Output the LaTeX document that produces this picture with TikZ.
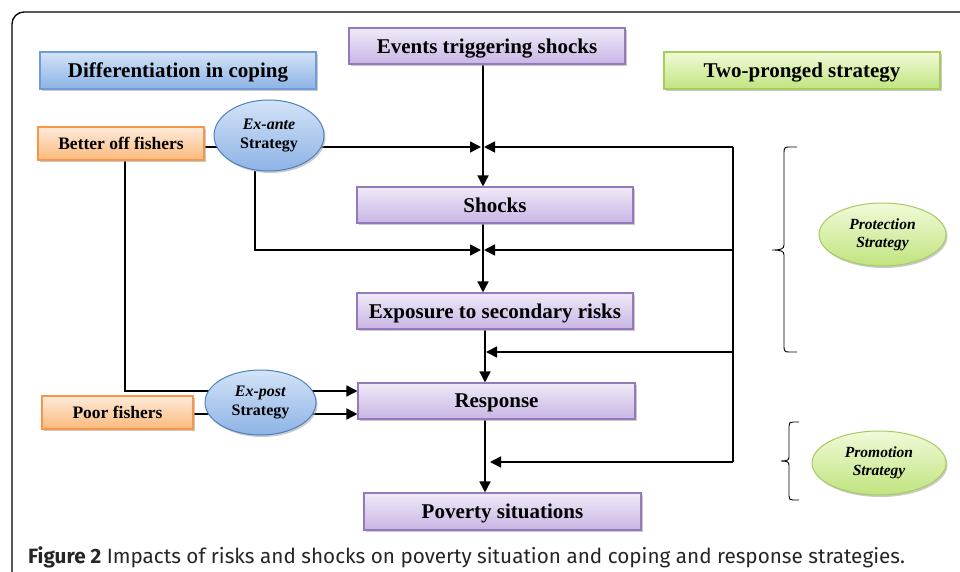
\documentclass[tikz,border=0pt]{standalone}
\usepackage{fontspec}
\setmainfont{Liberation Serif}
\newfontfamily\capfont{Fira Sans}
\usetikzlibrary{arrows.meta,shapes.geometric,shadows}
\pgfdeclarelayer{back}
\pgfdeclarelayer{bg}
\pgfsetlayers{back,bg,main}
\definecolor{bluebd}{HTML}{6F9BD6}
\definecolor{bluetop}{HTML}{D4E3F7}
\definecolor{bluebot}{HTML}{8DB3E6}
\definecolor{purpbd}{HTML}{9479BD}
\definecolor{purptop}{HTML}{F0EAF8}
\definecolor{purpbot}{HTML}{C8B5E4}
\definecolor{greenbd}{HTML}{A6CC5E}
\definecolor{greentop}{HTML}{F1FAD8}
\definecolor{greenbot}{HTML}{C0E47F}
\definecolor{orbd}{HTML}{F79646}
\definecolor{ortop}{HTML}{FDEBDA}
\definecolor{orbot}{HTML}{FBB97C}
\definecolor{ellbd}{HTML}{4F81BD}
\tikzset{
  x=1pt,y=-1pt,
  shad/.style={drop shadow={shadow xshift=1.5pt,shadow yshift=-2pt,fill=black!35,opacity=0.6}},
  boxbase/.style={rectangle,line width=1.1pt,shad,inner sep=0pt,text depth=0pt,font=\fontsize{21}{24}\selectfont\bfseries},
  bluebox/.style={boxbase,draw=bluebd,top color=bluetop,bottom color=bluebot},
  purpbox/.style={boxbase,draw=purpbd,top color=purptop,bottom color=purpbot},
  greenbox/.style={boxbase,draw=greenbd,top color=greentop,bottom color=greenbot},
  orbox/.style={boxbase,draw=orbd,top color=ortop,bottom color=orbot,font=\fontsize{17.5}{20}\selectfont\bfseries},
  blueell/.style={ellipse,line width=1pt,draw=ellbd,top color=bluetop,bottom color=bluebot,shad,inner sep=0pt,align=center,font=\fontsize{16}{19}\selectfont\bfseries},
  greenell/.style={ellipse,line width=1pt,draw=greenbd,top color=greentop,bottom color=greenbot,shad,inner sep=0pt,align=center,font=\fontsize{15.5}{18}\selectfont\bfseries\itshape},
  conn/.style={line width=1.6pt,black},
  arr/.style={conn,-{Triangle[length=11pt,width=11pt]}},
  brc/.style={line width=0.9pt,black},
}
\begin{document}
\begin{tikzpicture}
\useasboundingbox (0,0) rectangle (960,572);
\begin{pgfonlayer}{back}
\fill[white] (0,0) rectangle (960,572);
\end{pgfonlayer}
\draw[line width=1.3pt,rounded corners=12pt] (12,580) -- (12,12) -- (975,12);

% nodes
\node[bluebox,minimum width=276pt,minimum height=37pt] (diff) at (178,70.5) {Differentiation in coping};
\node[purpbox,minimum width=276pt,minimum height=36pt] (events) at (487,46) {Events triggering shocks};
\node[greenbox,minimum width=276pt,minimum height=37pt] (two) at (802,70.5) {Two-pronged strategy};
\node[orbox,minimum width=166pt,minimum height=33pt] (better) at (121,143.5) {Better off fishers};
\node[blueell,minimum width=110pt,minimum height=71pt] (exante) at (269,135.5) {\textit{Ex-ante}\\Strategy};
\node[purpbox,minimum width=276pt,minimum height=36pt] (shocks) at (495,205) {Shocks};
\node[purpbox,minimum width=276pt,minimum height=36pt] (exposure) at (495,311) {Exposure to secondary risks};
\node[purpbox,minimum width=277pt,minimum height=36pt] (response) at (496.5,401) {Response};
\node[purpbox,minimum width=277pt,minimum height=37pt] (poverty) at (502.5,511.5) {Poverty situations};
\node[orbox,minimum width=151pt,minimum height=33pt] (poor) at (117.5,412.5) {Poor fishers};
\node[blueell,minimum width=111pt,minimum height=65pt] (expost) at (260.5,402.5) {\textit{Ex-post}\\Strategy};
\node[greenell,minimum width=127pt,minimum height=63pt] (protect) at (882.5,234.5) {Protection\\Strategy};
\node[greenell,minimum width=134pt,minimum height=64pt] (promote) at (879,463) {Promotion\\Strategy};

\node[anchor=west,inner sep=0pt,text=black!85,font=\capfont\fontsize{20.7}{24}\selectfont] (cap) at (28,557.5) {\textbf{Figure 2} Impacts of risks and shocks on poverty situation and coping and response strategies.};

% helper coordinates
\coordinate (mx) at (483,0);
\coordinate (mx2) at (485,0);
\coordinate (rx) at (733,0);
\coordinate (bx) at (125,0);
\coordinate (ex) at (255,0);
\coordinate (yA) at (0,147);
\coordinate (yB) at (0,250);
\coordinate (yC) at (0,352);
\coordinate (yD) at (0,462);
\coordinate (yE) at (0,391);
\coordinate (yF) at (0,414);

\begin{pgfonlayer}{bg}
% main chain
\draw[arr] (events.south -| mx) -- (shocks.north -| mx);
\draw[arr] (shocks.south -| mx) -- (exposure.north -| mx);
\draw[arr] (exposure.south -| mx2) -- (response.north -| mx2);
\draw[arr] (response.south -| mx2) -- (poverty.north -| mx2);
% feedback from right
\draw[conn] (rx |- yA) -- (rx |- yD);
\draw[arr] (rx |- yA) -- ([xshift=1pt]mx |- yA);
\draw[arr] (rx |- yB) -- ([xshift=1pt]mx |- yB);
\draw[arr] (rx |- yC) -- ([xshift=1pt]mx2 |- yC);
\draw[arr] (rx |- yD) -- ([xshift=5pt]mx2 |- yD);
% ex-ante
\draw[arr] (better.east |- yA) -- ([xshift=-2pt]mx |- yA);
\draw[arr] (exante.south -| ex) -- (ex |- yB) -- ([xshift=-2pt]mx |- yB);
% ex-post
\draw[arr] (better.south -| bx) -- (bx |- yE) -- (response.west |- yE);
\draw[arr] (poor.east |- yF) -- (response.west |- yF);
\end{pgfonlayer}

% braces
\draw[brc] (797,147) -- (789,147) .. controls (785,147) and (784,148) .. (784,152)
  -- (784,245) .. controls (784,249) and (781,250) .. (772,250)
  .. controls (781,250) and (784,251) .. (784,255)
  -- (784,347) .. controls (784,351) and (785,352) .. (789,352) -- (797,352);
\draw[brc] (799,422) -- (793,422) .. controls (790,422) and (789,423) .. (789,426)
  -- (789,457) .. controls (789,460) and (787,461) .. (781,461)
  .. controls (787,461) and (789,462) .. (789,465)
  -- (789,496) .. controls (789,499) and (790,500) .. (793,500) -- (799,500);
\end{tikzpicture}
\end{document}
